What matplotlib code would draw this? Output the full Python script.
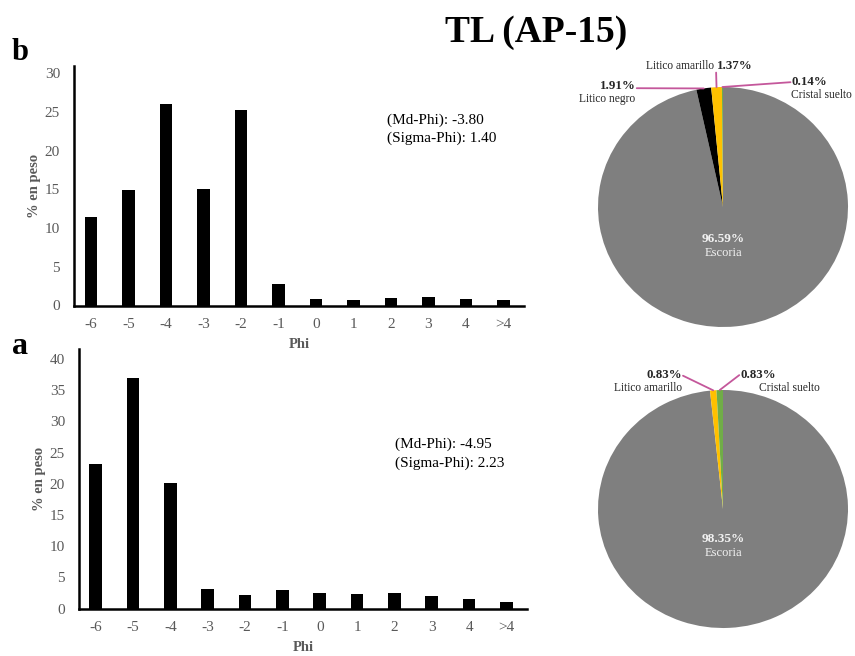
import numpy as np
import matplotlib
matplotlib.use("Agg")
from matplotlib import pyplot as plt

plt.rcParams['font.family'] = ['Liberation Serif', 'DejaVu Serif']

phi = ['-6', '-5', '-4', '-3', '-2', '-1', '0', '1', '2', '3', '4', '>4']
peso_b = [11.4, 14.9, 26.0, 15.1, 25.3, 2.8, 0.9, 0.7, 1.0, 1.05, 0.9, 0.7]
peso_a = [23.2, 36.9, 20.1, 3.2, 2.1, 3.0, 2.5, 2.3, 2.5, 2.0, 1.55, 1.05]

comp_b = ['Escoria', 'Litico negro', 'Litico amarillo', 'Cristal suelto']
pct_b = [96.59, 1.91, 1.37, 0.14]
col_b = ['#7f7f7f', '#000000', '#ffc000', '#70ad47']

comp_a = ['Escoria', 'Litico amarillo', 'Cristal suelto']
pct_a = [98.35, 0.83, 0.83]
col_a = ['#7f7f7f', '#ffc000', '#70ad47']

W, H = 855, 656
fig = plt.figure(figsize=(W / 100, H / 100), dpi=100)
grey = '#595959'
pink = '#c4579b'
dark = '#262626'
lab_fs = 8.3
pct_fs = 9.3


def px(x0, y0, w, h):
    # pixel box (left, top, width, height) -> figure fraction
    return [x0 / W, 1 - (y0 + h) / H, w / W, h / H]


def bar_panel(rect, vals, ymax, ystep, md, sg, txt_xy, ylpad):
    ax = fig.add_axes(rect)
    x = np.arange(len(phi))
    ax.bar(x, vals, width=0.34, color='black')
    ax.set_xlim(-0.45, 11.55)
    ax.set_ylim(0, ymax)
    ax.set_yticks(np.arange(0, ymax, ystep))
    ax.set_xticks(x)
    ax.set_xticklabels(phi)
    for s in ['top', 'right']:
        ax.spines[s].set_visible(False)
    for s in ['left', 'bottom']:
        ax.spines[s].set_linewidth(1.8)
    ax.tick_params(length=0, labelsize=11, labelcolor=grey)
    ax.tick_params(axis='y', pad=10)
    ax.tick_params(axis='x', pad=9)
    ax.set_ylabel('% en peso', fontsize=10.5, fontweight='bold', color=grey, labelpad=ylpad)
    ax.set_xlabel('Phi', fontsize=10.5, fontweight='bold', color=grey, labelpad=5)
    ax.text(txt_xy[0], txt_xy[1], '(Md-Phi): %s\n(Sigma-Phi): %s' % (md, sg),
            transform=ax.transAxes, fontsize=11, va='top', ha='left', linespacing=1.45)
    return ax


axb = bar_panel(px(74, 65.5, 450, 240), peso_b, 31, 5, '-3.80', '1.40', (0.695, 0.80), 3)
axa = bar_panel(px(79, 349, 448, 259.5), peso_a, 41.6, 5, '-4.95', '2.23', (0.705, 0.657), 3)


def pie_panel(cx, cy, rx, ry, vals, cols):
    ax = fig.add_axes(px(cx - rx, cy - ry, 2 * rx, 2 * ry))
    wedges, _ = ax.pie(vals, colors=cols, startangle=90, counterclock=False,
                       radius=1, wedgeprops=dict(linewidth=0))
    ax.set_aspect('auto')
    ax.set_xlim(-1, 1)
    ax.set_ylim(-1, 1)
    ax.axis('off')
    mids = []
    for w in wedges:
        a = np.deg2rad((w.theta1 + w.theta2) / 2)
        mids.append((np.cos(a), np.sin(a)))
    return ax, mids


def leader(ax, xy, xytext):
    ax.annotate('', xy=xy, xytext=xytext, annotation_clip=False,
                arrowprops=dict(arrowstyle='-', color=pink, lw=1.3,
                                shrinkA=0, shrinkB=0))


def label(ax, x, y, s, ha, bold=False):
    ax.text(x, y, s, ha=ha, va='center', fontsize=pct_fs if bold else lab_fs,
            fontweight='bold' if bold else 'normal', color=dark, clip_on=False)


# top pie (b)
pb, mb = pie_panel(723, 207, 125, 120, pct_b, col_b)
pb.text(0, -0.27, '%.2f%%' % pct_b[0], ha='center', va='center', fontsize=9.5,
        fontweight='bold', color='#f2f2f2')
pb.text(0, -0.385, comp_b[0], ha='center', va='center', fontsize=9, color='#f2f2f2')
label(pb, -0.70, 1.01, '%.2f%%' % pct_b[1], 'right', True)
label(pb, -0.70, 0.90, comp_b[1], 'right')
leader(pb, mb[1], (-0.69, 0.99))
label(pb, -0.075, 1.175, comp_b[2], 'right')
label(pb, -0.05, 1.175, '%.2f%%' % pct_b[2], 'left', True)
leader(pb, mb[2], (-0.055, 1.12))
label(pb, 0.545, 1.04, '%.2f%%' % pct_b[3], 'left', True)
label(pb, 0.545, 0.935, comp_b[3], 'left')
leader(pb, mb[3], (0.54, 1.04))

# bottom pie (a)
pa, ma = pie_panel(723, 509, 125, 119, pct_a, col_a)
pa.text(0, -0.25, '%.2f%%' % pct_a[0], ha='center', va='center', fontsize=9.5,
        fontweight='bold', color='#f2f2f2')
pa.text(0, -0.37, comp_a[0], ha='center', va='center', fontsize=9, color='#f2f2f2')
label(pa, -0.33, 1.126, '%.2f%%' % pct_a[1], 'right', True)
label(pa, -0.33, 1.017, comp_a[1], 'right')
leader(pa, ma[1], (-0.32, 1.12))
label(pa, 0.136, 1.126, '%.2f%%' % pct_a[2], 'left', True)
label(pa, 0.29, 1.017, comp_a[2], 'left')
leader(pa, ma[2], (0.13, 1.125))

fig.text(536 / W, 1 - 32 / H, 'TL (AP-15)', ha='center', va='center', fontsize=27,
         fontweight='bold')
fig.text(20 / W, 1 - 52 / H, 'b', ha='center', va='center', fontsize=22, fontweight='bold')
fig.text(20 / W, 1 - 347 / H, 'a', ha='center', va='center', fontsize=23, fontweight='bold')

fig.savefig('out.png', dpi=100)
